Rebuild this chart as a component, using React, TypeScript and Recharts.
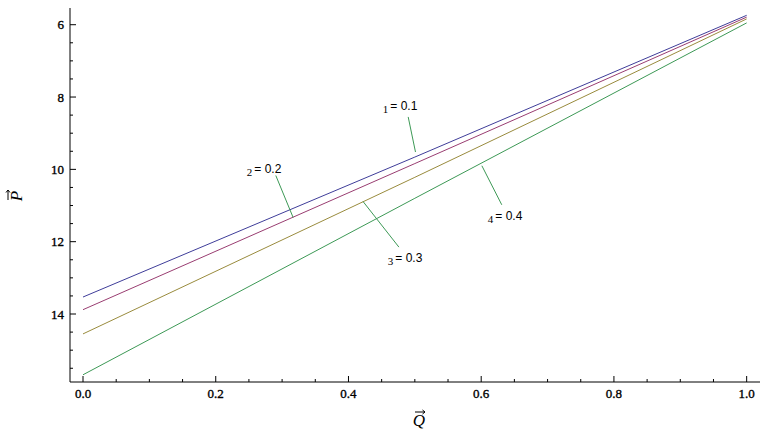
import React from "react"
import { LineChart, Line, XAxis, YAxis, ReferenceLine, ReferenceDot } from "recharts"

// values
const qValues = [0, 0.5, 1]
const series1 = [13.53, 9.66, 5.74]
const series2 = [13.88, 9.84, 5.79]
const series3 = [14.55, 10.22, 5.84]
const series4 = [15.68, 10.8, 5.95]

const seriesNames = ["1", "2", "3", "4"]
const seriesValues = ["0.1", "0.2", "0.3", "0.4"]
const colors = ["#3F3D99", "#993D71", "#998B3D", "#3D9956"]

const xTicks = [0, 0.05, 0.1, 0.15, 0.2, 0.25, 0.3, 0.35, 0.4, 0.45, 0.5, 0.55, 0.6, 0.65, 0.7, 0.75, 0.8, 0.85, 0.9, 0.95, 1.0]
const yTicks = [6, 6.5, 7, 7.5, 8, 8.5, 9, 9.5, 10, 10.5, 11, 11.5, 12, 12.5, 13, 13.5, 14, 14.5, 15, 15.5]

const data = qValues.map((q, i) => ({
  q,
  s1: series1[i],
  s2: series2[i],
  s3: series3[i],
  s4: series4[i],
}))

// annotation placement (in data coordinates)
const labelAnchors = [
  { x: 0.4518, y: 8.35 },
  { x: 0.2468, y: 10.09 },
  { x: 0.4593, y: 12.55 },
  { x: 0.61, y: 11.39 },
]
const pointers = [
  [{ x: 0.49, y: 8.55 }, { x: 0.501, y: 9.52 }],
  [{ x: 0.2905, y: 10.17 }, { x: 0.3166, y: 11.33 }],
  [{ x: 0.422, y: 10.89 }, { x: 0.476, y: 12.15 }],
  [{ x: 0.601, y: 9.9 }, { x: 0.631, y: 10.98 }],
]

const serif = "Liberation Serif, Times New Roman, serif"
const tickStyle = { fontFamily: serif, fontSize: 13, fontWeight: 400 as const }

const isMajorX = (v: number) => Math.abs(v * 5 - Math.round(v * 5)) < 1e-6
const isMajorY = (v: number) => Math.abs(v / 2 - Math.round(v / 2)) < 1e-6

const BottomTick = (props: any) => {
  const { x, y, payload } = props
  const major = isMajorX(payload.value)
  return (
    <g>
      <line x1={x} x2={x} y1={y} y2={y - (major ? 6 : 3)} stroke="#000" />
      {major && (
        <text x={x} y={y + 16} textAnchor="middle" fill="#000" stroke="#000" strokeWidth={0.35} style={tickStyle}>
          {payload.value.toFixed(1)}
        </text>
      )}
    </g>
  )
}

const TopTick = (props: any) => {
  const { x, y, payload } = props
  const major = isMajorX(payload.value)
  return <line x1={x} x2={x} y1={y} y2={y + (major ? 6 : 3)} stroke="#000" />
}

const LeftTick = (props: any) => {
  const { x, y, payload } = props
  const major = isMajorY(payload.value)
  return (
    <g>
      <line x1={x} x2={x + (major ? 6 : 3)} y1={y} y2={y} stroke="#000" />
      {major && (
        <text x={x - 6} y={y + 4.5} textAnchor="end" fill="#000" stroke="#000" strokeWidth={0.35} style={tickStyle}>
          {payload.value}
        </text>
      )}
    </g>
  )
}

const RightTick = (props: any) => {
  const { x, y, payload } = props
  const major = isMajorY(payload.value)
  return <line x1={x} x2={x - (major ? 6 : 3)} y1={y} y2={y} stroke="#000" />
}

// italic letter with a small vector arrow drawn above it
const VecLetter = ({ letter }: { letter: string }) => (
  <g>
    <text x={0} y={0} textAnchor="middle" fill="#000" style={{ fontFamily: serif, fontStyle: "italic", fontSize: 17 }}>
      {letter}
    </text>
    <path d="M -4 -14 L 6 -14 M 3.5 -16 L 6 -14 L 3.5 -12" stroke="#000" strokeWidth={1} fill="none" />
  </g>
)

const makeLabel = (i: number) => (props: any) => {
  const { cx, cy } = props
  return (
    <text x={cx} y={cy} fill="#000">
      <tspan style={{ fontFamily: serif, fontSize: 11 }} dy={3}>
        {seriesNames[i]}
      </tspan>
      <tspan style={{ fontFamily: "Liberation Sans, sans-serif", fontSize: 12 }} dx={2} dy={-3}>
        {"= " + seriesValues[i]}
      </tspan>
    </text>
  )
}

export default function App() {
  return (
    <div style={{ position: "absolute", left: 0, top: 0, background: "#fff" }}>
      <LineChart width={774} height={436} data={data} margin={{ top: 8, right: 14, bottom: 0, left: 0 }}>
        <XAxis
          xAxisId="b"
          dataKey="q"
          type="number"
          domain={[-0.0196, 1.0201]}
          ticks={xTicks}
          interval={0}
          allowDataOverflow
          height={54}
          tickSize={0}
          tickMargin={0}
          tickLine={false}
          axisLine={{ stroke: "#000" }}
          tick={<BottomTick />}
          label={{
            content: (p: any) => {
              const vb = p.viewBox
              return (
                <g transform={`translate(${vb.x + vb.width / 2 + 4}, ${vb.y + 44})`}>
                  <VecLetter letter="Q" />
                </g>
              )
            },
          }}
        />
        <XAxis
          xAxisId="t"
          orientation="top"
          dataKey="q"
          type="number"
          domain={[-0.0196, 1.0201]}
          ticks={xTicks}
          interval={0}
          allowDataOverflow
          height={0}
          tickSize={0}
          tickMargin={0}
          tickLine={false}
          axisLine={{ stroke: "#000" }}
          tick={<TopTick />}
        />
        <YAxis
          yAxisId="l"
          type="number"
          reversed
          domain={[5.538, 15.88]}
          ticks={yTicks}
          interval={0}
          allowDataOverflow
          width={70}
          tickSize={0}
          tickMargin={0}
          tickLine={false}
          axisLine={{ stroke: "#000" }}
          tick={<LeftTick />}
          label={{
            content: (p: any) => {
              const vb = p.viewBox
              const cy = vb.y + vb.height / 2
              return (
                <g transform={`translate(22, ${cy + 1}) rotate(-90)`}>
                  <VecLetter letter="P" />
                </g>
              )
            },
          }}
        />
        <YAxis
          yAxisId="r"
          orientation="right"
          type="number"
          reversed
          domain={[5.538, 15.88]}
          ticks={yTicks}
          interval={0}
          allowDataOverflow
          width={0}
          tickSize={0}
          tickMargin={0}
          tickLine={false}
          axisLine={{ stroke: "#000" }}
          tick={<RightTick />}
        />
        {["s1", "s2", "s3", "s4"].map((k, i) => (
          <Line
            key={k}
            xAxisId="b"
            yAxisId="l"
            type="linear"
            dataKey={k}
            stroke={colors[i]}
            strokeWidth={1}
            dot={false}
            isAnimationActive={false}
          />
        ))}
        {pointers.map((seg, i) => (
          <ReferenceLine
            key={"p" + i}
            xAxisId="b"
            yAxisId="l"
            segment={seg}
            stroke="#3D9956"
            strokeWidth={1}
            ifOverflow="visible"
          />
        ))}
        {labelAnchors.map((a, i) => (
          <ReferenceDot
            key={"l" + i}
            xAxisId="b"
            yAxisId="l"
            x={a.x}
            y={a.y}
            r={0}
            ifOverflow="visible"
            shape={makeLabel(i)}
          />
        ))}
      </LineChart>
    </div>
  )
}
